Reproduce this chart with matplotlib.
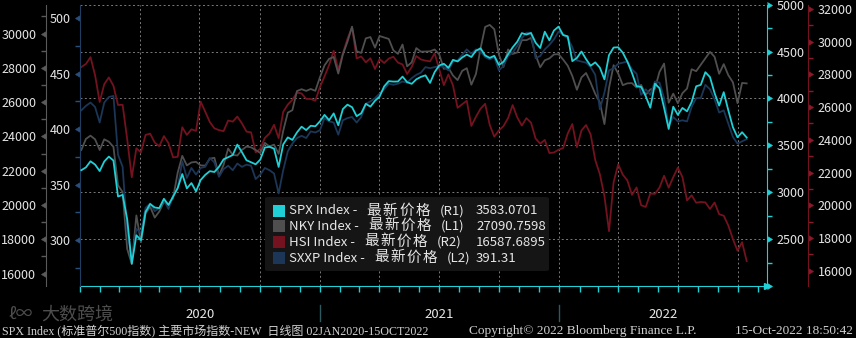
import matplotlib.pyplot as plt
import matplotlib.dates as mdates
import matplotlib.markers as mmarkers
from matplotlib.ticker import MultipleLocator, NullFormatter, FuncFormatter
from matplotlib.transforms import blended_transform_factory
from matplotlib.patches import FancyBboxPatch, Rectangle
import numpy as np
import pandas as pd

plt.rcParams['font.family'] = ['Noto Sans CJK SC', 'DejaVu Sans']

# weekly (Friday) closes, 2020-01-03 .. 2022-10-14
dates = pd.date_range('2020-01-03', '2022-10-14', freq='W-FRI')

spx = [
    # 2020
    3235, 3265, 3330, 3295, 3226,
    3328, 3380, 3338, 2954,
    2972, 2711, 2237, 2541,
    2489, 2790, 2875, 2837,
    2831, 2930, 2864, 2955, 3044,
    3194, 3041, 3098, 3009,
    3130, 3185, 3225, 3216, 3271,
    3351, 3373, 3397, 3508,
    3427, 3341, 3319, 3298,
    3348, 3477, 3484, 3465, 3270,
    3510, 3585, 3558, 3638,
    3699, 3663, 3709, 3703,
    # 2021
    3756, 3825, 3768, 3841, 3714,
    3887, 3934, 3907, 3811,
    3842, 3943, 3913, 3975,
    4020, 4129, 4185, 4180, 4181,
    4233, 4174, 4156, 4204,
    4230, 4247, 4166, 4281,
    4352, 4370, 4327, 4412, 4395,
    4437, 4468, 4442, 4509,
    4535, 4459, 4433, 4455,
    4357, 4391, 4471, 4545, 4605,
    4697, 4682, 4698, 4595,
    4538, 4712, 4620, 4725, 4766,
    # 2022
    4677, 4663, 4398, 4432,
    4501, 4419, 4349, 4385,
    4329, 4204, 4463, 4543,
    4546, 4488, 4393, 4272, 4132,
    4123, 4024, 3901, 4158,
    4109, 3901, 3675, 3912,
    3825, 3899, 3863, 3962, 4130,
    4145, 4280, 4228, 4058,
    3924, 4067, 3873, 3693, 3586,
    3640, 3583,
]

nky = [
    # 2020
    23205, 23850, 24041, 23827, 23205,
    23828, 23688, 23387, 21143,
    20750, 17431, 16553, 19389,
    17820, 19499, 19897, 19262,
    19619, 20179, 20037, 20388, 21878,
    22863, 22305, 22479, 22512,
    22306, 22291, 22696, 22751, 21710,
    22329, 23289, 22920, 22882,
    23205, 23406, 23360, 23205,
    23030, 23620, 23410, 23516, 22977,
    24325, 25385, 25527, 26644,
    26751, 26652, 26763, 26656,
    # 2021
    27444, 28139, 28519, 28631, 27663,
    28779, 29520, 30400, 28966,
    28864, 29717, 29792, 29176,
    29854, 29768, 29683, 29020, 28812,
    29357, 28084, 28317, 29149,
    28941, 28948, 28964, 29066,
    28783, 27940, 28003, 27548, 27283,
    27820, 27977, 27013, 27641,
    29128, 30382, 30500, 30249,
    28771, 28049, 29069, 28805, 28893,
    29612, 29610, 29745, 28752,
    28029, 28437, 28546, 28782, 28792,
    # 2022
    28479, 28124, 27522, 26717,
    27440, 27696, 27122, 26477,
    25985, 24717, 26827, 28150,
    27666, 26986, 27093, 27105, 26848,
    27004, 26427, 26739, 26782,
    27762, 28246, 25963, 26491,
    25935, 26517, 26788, 27915, 27802,
    28176, 28547, 28930, 28641,
    27650, 28214, 27567, 27153, 25937,
    27116, 27090,
]

hsi = [
    # 2020
    28452, 28638, 29056, 27950, 26313,
    27404, 27815, 27308, 26130,
    26146, 24033, 21709, 23484,
    23236, 24300, 24380, 23832,
    23613, 24230, 23797, 22930, 22961,
    24770, 24301, 24644, 24549,
    26339, 25727, 25089, 24705, 24595,
    24532, 25183, 25113, 25422,
    25007, 24503, 24455, 23235,
    23459, 24119, 24387, 24918, 24107,
    25713, 26156, 26451, 26894,
    26836, 26506, 26498, 26387,
    # 2021
    27231, 27878, 28574, 29447, 28284,
    29289, 30173, 30900, 28980,
    29098, 28740, 28990, 28336,
    28939, 28699, 28970, 29079, 28725,
    28610, 28027, 28458, 29124,
    28918, 28842, 28801, 29288,
    28310, 27344, 28004, 27321, 25961,
    26179, 26391, 24850, 25408,
    25902, 26205, 24920, 24192,
    24576, 24838, 25330, 26127, 25377,
    24871, 25328, 25050, 24080,
    23767, 23996, 23193, 23224, 23398,
    # 2022
    23493, 24383, 24966, 23550,
    24573, 24906, 24328, 22767,
    21905, 20554, 18415, 21405,
    22502, 21872, 21518, 20638, 21089,
    20001, 19898, 20717, 20697,
    21082, 21806, 21075, 21719,
    22300, 21725, 20297, 20609, 20156,
    20202, 20175, 19773, 20170,
    19452, 19362, 18762, 17933, 17223,
    17740, 16588,
]

sxxp = [
    # 2020
    417, 421, 424, 420, 406,
    424, 429, 430, 377,
    366, 308, 280, 310,
    306, 329, 333, 326,
    329, 336, 328, 340, 347,
    371, 356, 365, 359,
    365, 366, 374, 370, 357,
    364, 367, 363, 369,
    366, 368, 367, 355,
    359, 365, 363, 360, 342,
    363, 380, 387, 392,
    394, 392, 398, 397,
    # 2021
    399, 410, 407, 406, 395,
    408, 410, 411, 406,
    411, 423, 425, 428,
    432, 436, 441, 440, 441,
    443, 442, 446, 449,
    451, 456, 455, 456,
    457, 456, 453, 461, 462,
    467, 472, 468, 472,
    470, 465, 463, 465,
    453, 457, 466, 469, 475,
    482, 487, 487, 464,
    466, 472, 476, 481, 488,
    # 2022
    485, 482, 474, 462,
    461, 460, 456, 449,
    418, 433, 453, 455,
    459, 460, 461, 454, 450,
    431, 436, 431, 443,
    442, 428, 403, 411,
    407, 408, 407, 420, 428,
    428, 440, 436, 427,
    415, 417, 405, 393, 387,
    389, 391,
]

for s in (spx, nky, hsi, sxxp):
    assert len(s) == len(dates), (len(s), len(dates))

names = ['SPX Index', 'NKY Index', 'HSI Index', 'SXXP Index']
tags = ['(R1)', '(L1)', '(R2)', '(L2)']
last_vals = ['3583.0701', '27090.7598', '16587.6895', '391.31']
colors = ['#1fd0d6', '#4f4f4f', '#74121f', '#1b3656']
C_SPX, C_NKY, C_HSI, C_SX = colors
TXT = '#e6e6e6'

W, H = 856, 338
fig = plt.figure(figsize=(W / 100, H / 100), dpi=100, facecolor='black')
L, R, T, B = 80, 767, 4.7, 286
rect = [L / W, 1 - B / H, (R - L) / W, (B - T) / H]

ax = fig.add_axes(rect)            # host: SPX scale (R1), grid, x axis
ax.set_facecolor('black')
ax_hsi = ax.twinx()
ax_nky = ax.twinx()
ax_sx = ax.twinx()
ax_line = fig.add_axes(rect, sharex=ax, sharey=ax)   # SPX line on top
ax_line.axis('off')
ax_line.patch.set_visible(False)

for z, a in enumerate([ax, ax_hsi, ax_nky, ax_sx, ax_line]):
    a.set_zorder(0.1 + 0.1 * z)
    for sp in a.spines.values():
        sp.set_visible(False)

ax_hsi.plot(dates, hsi, color=C_HSI, lw=1.3)
ax_nky.plot(dates, nky, color=C_NKY, lw=1.3)
ax_sx.plot(dates, sxxp, color=C_SX, lw=1.3)
ax_line.plot(dates, spx, color=C_SPX, lw=1.3)

ax.set_xlim(pd.Timestamp('2020-01-01'), pd.Timestamp('2022-11-14'))

# SPX (R1)
ax.yaxis.tick_right()
ax.set_ylim(2000, 5000)
ax.set_yticks(np.arange(2000, 5001, 500))
ax.yaxis.set_major_formatter(FuncFormatter(lambda v, p: '' if v < 2250 else f'{v:.0f}'))
ax.yaxis.set_minor_locator(MultipleLocator(250))
ax.spines['right'].set_visible(True)
ax.spines['right'].set_color(C_SPX)
ax.spines['bottom'].set_visible(True)
ax.spines['bottom'].set_color(C_SPX)

# HSI (R2)
ax_hsi.yaxis.tick_right()
ax_hsi.set_ylim(15064, 32263)
ax_hsi.set_yticks(np.arange(16000, 32001, 2000))
ax_hsi.yaxis.set_minor_locator(MultipleLocator(1000))
ax_hsi.spines['right'].set_visible(True)
ax_hsi.spines['right'].set_position(('outward', 29.5))
ax_hsi.spines['right'].set_color(C_HSI)

# NKY (L1)
ax_nky.yaxis.tick_left()
ax_nky.set_ylim(15271, 31680)
ax_nky.set_yticks(np.arange(16000, 30001, 2000))
ax_nky.yaxis.set_minor_locator(MultipleLocator(1000))
ax_nky.spines['left'].set_visible(True)
ax_nky.spines['left'].set_position(('outward', 24.5))
ax_nky.spines['left'].set_color('#5a5a5a')

# SXXP (L2)
ax_sx.yaxis.tick_left()
ax_sx.set_ylim(258.5, 512.3)
ax_sx.set_yticks(np.arange(300, 501, 50))
ax_sx.yaxis.set_minor_locator(MultipleLocator(25))
ax_sx.spines['left'].set_visible(True)
ax_sx.spines['left'].set_color('#1f3d60')

for a, c in [(ax, C_SPX), (ax_hsi, '#8a1a2a'), (ax_nky, '#5a5a5a'), (ax_sx, '#2a4f7a')]:
    a.tick_params(axis='y', which='major', length=5, width=0.5, color=c,
                  labelcolor=TXT, labelsize=9, pad=2)
    a.tick_params(axis='y', which='minor', length=3.5, width=1, color=c)

ax.xaxis.set_major_locator(mdates.MonthLocator())
ax.xaxis.set_major_formatter(NullFormatter())
ax.tick_params(axis='x', which='major', length=4, width=1, color=C_SPX)

# grid
ax.yaxis.grid(True, which='major', color='#7a7a7a', lw=0.7, ls=(0, (2, 2.5)))
for d in pd.date_range('2020-04-01', '2022-10-01', freq='QS'):
    ax.axvline(d, color='#7a7a7a', lw=0.7, ls=(0, (2, 2.5)))
ax.plot([1.0], [0.0], transform=ax.transAxes, marker='>', ms=5,
        color=C_SPX, clip_on=False)

# year labels and separators under the axis
trans = blended_transform_factory(ax.transData, fig.transFigure)
x0, x1 = ax.get_xlim()
for yr in [2020, 2021, 2022]:
    a0 = max(mdates.date2num(pd.Timestamp(f'{yr}-01-01')), x0)
    a1 = min(mdates.date2num(pd.Timestamp(f'{yr + 1}-01-01')), x1)
    ax.text((a0 + a1) / 2, 1 - 314 / H, str(yr), transform=trans,
            ha='center', va='center', color=TXT, fontsize=9.5)
    if yr > 2020:
        ax.plot([a0, a0], [1 - 305 / H, 1 - 321 / H], transform=trans,
                color='#2c5a60', lw=1, clip_on=False)

# legend box
fig.add_artist(FancyBboxPatch((265 / W, 1 - 271 / H), (549 - 265) / W, (271 - 197) / H,
                              boxstyle='round,pad=0,rounding_size=0.004',
                              transform=fig.transFigure, facecolor='#151515',
                              edgecolor='none', zorder=5))
fig.canvas.draw()
rend = fig.canvas.get_renderer()
row_y = [211, 226, 242, 258]
for i in range(4):
    yc = 1 - row_y[i] / H
    fig.add_artist(Rectangle((273 / W, 1 - (row_y[i] + 6) / H), 12 / W, 12 / H,
                             facecolor=colors[i], edgecolor='none',
                             transform=fig.transFigure, zorder=6))
    t1 = fig.text(289 / W, yc, names[i] + ' -', fontsize=9.5, color=TXT,
                  va='center', zorder=7)
    xs = t1.get_window_extent(rend).x1 + 9
    for k, ch in enumerate('最新价格'):
        fig.text((xs + k * 16.3) / W, yc + 0.5 / H, ch, fontsize=10.5, color=TXT,
                 va='center', zorder=7)
    t3 = fig.text((xs + 4 * 16.3 + 8) / W, yc, tags[i], fontsize=9.5, color=TXT,
                  va='center', zorder=7)
    xe = t3.get_window_extent(rend).x1
    fig.text(max(476, xe + 5) / W, yc, last_vals[i], fontsize=9.5, color=TXT,
             va='center', zorder=7)


# footer, fitted to the widths it takes in the terminal print
def fitted(x, y, s, width, ha='left'):
    t = fig.text(x / W, y, s, fontsize=8, color='#d0d0d0', va='center', ha=ha,
                 family=['Liberation Serif', 'Noto Sans CJK SC'])
    w = t.get_window_extent(rend).width
    t.set_fontsize(8 * width / w)
    return t


fy = 1 - 331 / H
fitted(2, fy, 'SPX Index (标准普尔500指数) 主要市场指数-NEW  日线图 02JAN2020-15OCT2022', 428)
fitted(469, fy, 'Copyright© 2022 Bloomberg Finance L.P.', 228)
fitted(853, fy, '15-Oct-2022 18:50:42', 118, ha='right')
fig.text(9 / W, 1 - 314 / H, 'ℓ∞', fontsize=12, color='#9a9a9a', alpha=0.5,
         va='center')
fig.text(41 / W, 1 - 315 / H, '大数跨境', fontsize=13, color='#9a9a9a', alpha=0.5,
         va='center')

# caret-shaped major ticks like the terminal
fig.canvas.draw()
for a, side in [(ax, 'right'), (ax_hsi, 'right'), (ax_nky, 'left'), (ax_sx, 'left')]:
    for t in a.yaxis.get_major_ticks():
        if side == 'left':
            t.tick1line.set_marker(mmarkers.CARETLEFTBASE)
        else:
            t.tick2line.set_marker(mmarkers.CARETRIGHTBASE)

fig.savefig('out.png', dpi=100, facecolor='black')
